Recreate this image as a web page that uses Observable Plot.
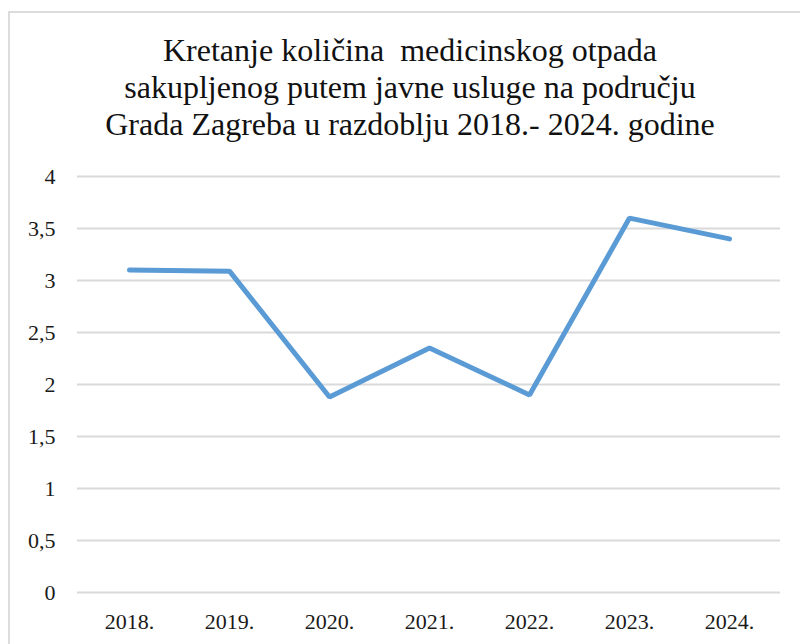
<!DOCTYPE html>
<html>
<head>
<meta charset="utf-8">
<script src="https://cdn.jsdelivr.net/npm/d3@7"></script>
<script src="https://cdn.jsdelivr.net/npm/@observablehq/plot@0.6"></script>
<style>
  html, body { margin: 0; padding: 0; background: #fff; }
  #wrap { position: relative; width: 800px; height: 644px; overflow: hidden; background: #fff; }
  #frame { position: absolute; left: 8px; top: 11px; width: 820px; height: 700px; border: 2px solid #dcdcdc; box-sizing: border-box; }
  #title { position: absolute; left: 9px; top: 32px; width: 802px; text-align: center;
           font-family: 'Liberation Serif', 'Times New Roman', serif; font-size: 32px; line-height: 37px; color: #111; }
  #chart { position: absolute; left: 0; top: 0; }
</style>
</head>
<body>
<div id="wrap">
  <div id="frame"></div>
  <div id="title">Kretanje količina&nbsp; medicinskog otpada<br>sakupljenog putem javne usluge na području<br>Grada Zagreba u razdoblju 2018.- 2024. godine</div>
  <div id="chart"></div>
</div>
<script>
const years = ["2018.", "2019.", "2020.", "2021.", "2022.", "2023.", "2024."];
const values = [3.1, 3.09, 1.88, 2.35, 1.9, 3.6, 3.4];
const yTicks = [0, 0.5, 1, 1.5, 2, 2.5, 3, 3.5, 4];

const data = years.map((y, i) => ({year: y, value: values[i]}));
const fmt = d => String(d).replace(".", ",");
const serif = "'Liberation Serif', 'Times New Roman', serif";

const chart = Plot.plot({
  width: 800,
  height: 644,
  marginLeft: 77,
  marginRight: 20,
  marginTop: 176,
  marginBottom: 52,
  style: {fontFamily: serif, fontSize: "22px", color: "#1a1a1a", background: "transparent"},
  x: {type: "point", domain: years, padding: 0.5},
  y: {domain: [0, 4]},
  marks: [
    Plot.ruleY(yTicks, {stroke: "#d9d9d9", strokeWidth: 2, strokeOpacity: 1}),
    Plot.axisY({ticks: yTicks, tickFormat: fmt, tickSize: 0, tickPadding: 22, label: null, fontFamily: serif, fontSize: 22}),
    Plot.axisX({tickSize: 0, tickPadding: 21, label: null, fontFamily: serif, fontSize: 22, style: {letterSpacing: "1.2px"}}),
    Plot.line(data, {x: "year", y: "value", stroke: "#5b9bd5", strokeWidth: 5, strokeLinecap: "round", strokeLinejoin: "miter"})
  ]
});
document.getElementById("chart").appendChild(chart);
</script>
</body>
</html>
